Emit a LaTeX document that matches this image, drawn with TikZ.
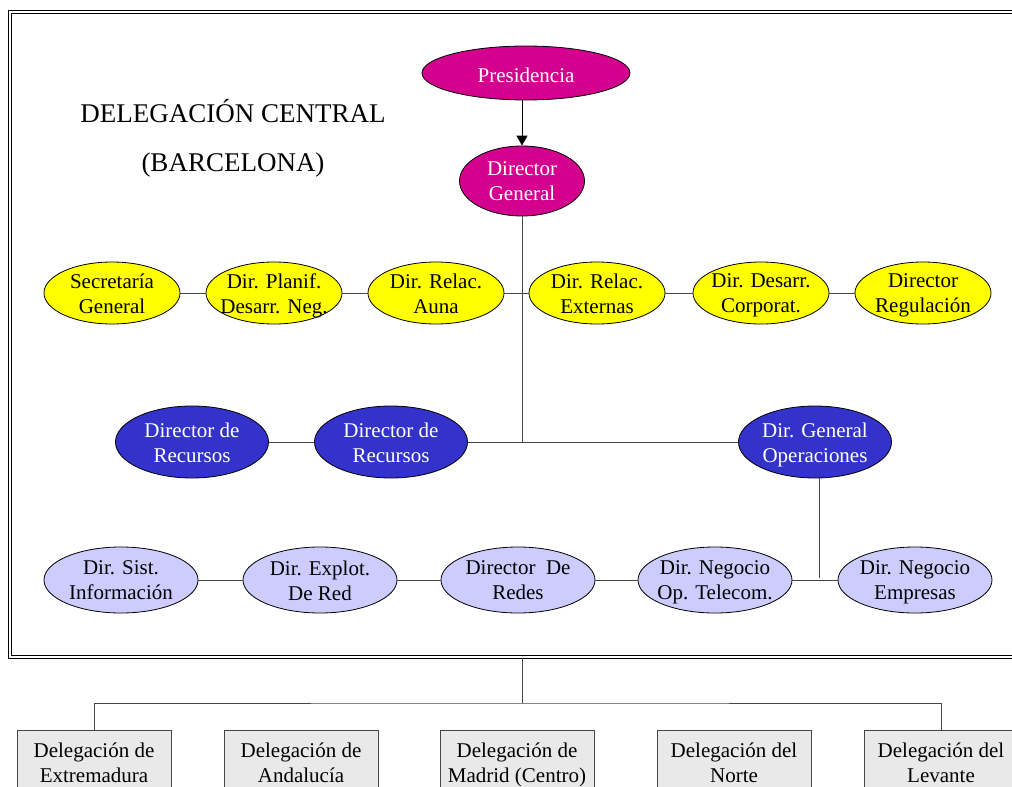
\documentclass[tikz,border=0pt]{standalone}
\usepackage{fontspec}
\setmainfont{Liberation Serif}
\usetikzlibrary{shapes.geometric,arrows.meta}

\definecolor{presi}{RGB}{212,0,142}
\definecolor{amar}{RGB}{255,255,0}
\definecolor{azul}{RGB}{51,51,204}
\definecolor{lila}{RGB}{204,204,255}
\definecolor{gris}{RGB}{233,233,233}
\definecolor{linea}{RGB}{70,70,70}

\begin{document}
\begin{tikzpicture}[x=1pt,y=-1pt,
    txt/.style={align=center, font=\fontsize{21}{25}\selectfont,
        execute at begin node=\strut, execute at end node=\strut},
    lab/.style={txt, yshift=-4pt},
    unit/.style={ellipse, draw=black, line width=0.8pt, inner sep=0pt},
    mando/.style={unit, fill=presi, label={[lab, text=white]center:#1}},
    staff/.style={unit, fill=amar, minimum width=136, minimum height=62, label={[lab]center:#1}},
    direc/.style={unit, fill=azul, minimum width=153, minimum height=72, label={[lab, text=white]center:#1}},
    area/.style={unit, fill=lila, minimum width=154, minimum height=66, label={[lab]center:#1}},
    deleg/.style={txt, rectangle, draw=linea, line width=0.8pt, fill=gris, anchor=north,
        minimum width=154, minimum height=72, inner sep=0pt},
    link/.style={draw=linea, line width=1pt}]

\useasboundingbox[fill=white] (0,0) rectangle (1012,787);
\clip (0,0) rectangle (1012,787);

% marco de la delegacion central
\draw[line width=1pt, double=white, double distance=2pt] (10,11.5) rectangle (1030,656.5);

\node[align=center, font=\fontsize{27}{49}\selectfont] (title) at (233,138)
    {DELEGACIÓN CENTRAL\\(BARCELONA)};

\node[mando=Presidencia, minimum width=208, minimum height=54] (pres) at (526,73) {};
\node[mando={Director\\General}, minimum width=125, minimum height=70] (dg) at (522,181) {};

\node[staff={Secretaría\\General}] (sec) at (112,293) {};
\node[staff={Dir. Planif.\\Desarr. Neg.}] (plan) at (274,293) {};
\node[staff={Dir. Relac.\\Auna}] (auna) at (436,293) {};
\node[staff={Dir. Relac.\\Externas}] (ext) at (597,293) {};
\node[staff={Dir. Desarr.\\Corporat.}] (corp) at (761,293) {};
\node[staff={Director\\Regulación}] (regu) at (923,293) {};

\node[direc={Director de\\Recursos}] (rec1) at (192,442) {};
\node[direc={Director de\\Recursos}] (rec2) at (391,442) {};
\node[direc={Dir. General\\Operaciones}] (dgo) at (815,442) {};

\node[area={Dir. Sist.\\Información}] (sis) at (121,580) {};
\node[area={Dir. Explot.\\De Red}] (expl) at (320,580) {};
\node[area={Director~ De\\Redes}] (redes) at (518,580) {};
\node[area={Dir. Negocio\\Op. Telecom.}] (neg) at (715,580) {};
\node[area={Dir. Negocio\\Empresas}] (emp) at (915,580) {};

\node[deleg] (extr) at (94,730) {Delegación de\\Extremadura};
\node[deleg] (anda) at (301,730) {Delegación de\\Andalucía};
\node[deleg] (madr) at (517,730) {Delegación de\\Madrid (Centro)};
\node[deleg] (nort) at (734,730) {Delegación del\\Norte};
\node[deleg] (leva) at (941,730) {Delegación del\\Levante};

\coordinate (hub) at (522,442);
\coordinate (op) at (819,578);
\coordinate (fr) at (522,658);
\coordinate (bus) at (522,703);

\draw[link, -{Triangle[width=11pt,length=10pt]}, draw=black] (pres.south -| dg.north) -- (dg.north);
\draw[link] (sec) -- (plan) -- (auna) -- (ext) -- (corp) -- (regu);
\draw[link] (dg) -- (hub);
\draw[link] (rec1) -- (rec2) -- (dgo);
\draw[link] (sis) -- (expl) -- (redes) -- (neg) -- (emp);
\draw[link] (dgo.south -| op) -- (op);
\draw[link] (fr) -- (bus);
\draw[link] (extr.north) |- (bus) -| (leva.north);

\end{tikzpicture}
\end{document}
